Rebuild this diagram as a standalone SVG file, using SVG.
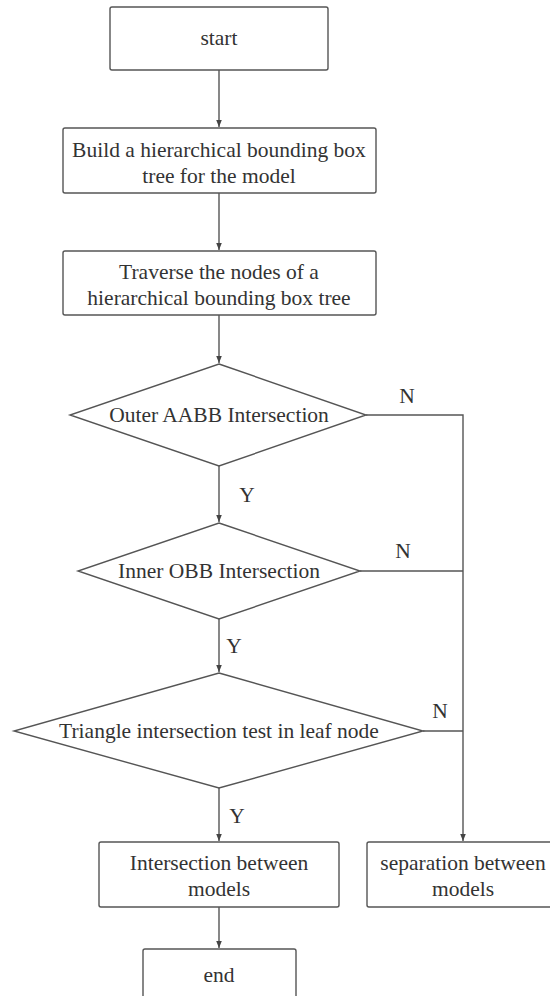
<svg xmlns="http://www.w3.org/2000/svg" width="550" height="996" viewBox="0 0 550 996">
<defs>
<marker id="ah" markerWidth="8" markerHeight="8" refX="7" refY="4" orient="auto" markerUnits="userSpaceOnUse">
<path d="M0,1.2 L7,4 L0,6.8 Z" fill="#444"/>
</marker>
<style>
.box{fill:#fff;stroke:#555;stroke-width:1.4}
.c{fill:none;stroke:#555;stroke-width:1.4}
</style>
</defs>
<rect width="550" height="996" fill="#fff"/>
<g font-family="'Liberation Serif', 'Times New Roman', Times, 'DejaVu Serif', serif" font-size="21.5" fill="#333" text-anchor="middle">
<g id="connectors">
<path class="c" d="M219,70 V127" marker-end="url(#ah)"/>
<path class="c" d="M219,193 V250" marker-end="url(#ah)"/>
<path class="c" d="M219,315 V363" marker-end="url(#ah)"/>
<path class="c" d="M219,466 V522" marker-end="url(#ah)"/>
<path class="c" d="M219,619 V672" marker-end="url(#ah)"/>
<path class="c" d="M219,788 V841" marker-end="url(#ah)"/>
<path class="c" d="M219,907 V948" marker-end="url(#ah)"/>
<path class="c" d="M366,415 H463 V841" marker-end="url(#ah)"/>
<path class="c" d="M360,571 H463"/>
<path class="c" d="M423,731 H463"/>
<text x="407" y="403">N</text>
<text x="403" y="558">N</text>
<text x="440" y="718">N</text>
<text x="247" y="502">Y</text>
<text x="234" y="653">Y</text>
<text x="237" y="823">Y</text>
</g>
<g id="start">
<rect class="box" x="110" y="7" width="218" height="63" rx="2"/>
<text x="219" y="45">start</text>
</g>
<g id="build">
<rect class="box" x="63" y="128" width="313" height="65" rx="2"/>
<text x="219" y="157">Build a hierarchical bounding box</text>
<text x="219" y="183">tree for the model</text>
</g>
<g id="traverse">
<rect class="box" x="63" y="251" width="313" height="64" rx="2"/>
<text x="219" y="279">Traverse the nodes of a</text>
<text x="219" y="305">hierarchical bounding box tree</text>
</g>
<g id="outer">
<polygon class="box" points="219,364 366,415 219,466 70,415"/>
<text x="219" y="422">Outer AABB Intersection</text>
</g>
<g id="inner">
<polygon class="box" points="219,523 360,571 219,619 78,571"/>
<text x="219" y="578">Inner OBB Intersection</text>
</g>
<g id="triangle">
<polygon class="box" points="219,673 423,731 219,788 14,731"/>
<text x="219" y="738">Triangle intersection test in leaf node</text>
</g>
<g id="intersection">
<rect class="box" x="99" y="842" width="240" height="65" rx="2"/>
<text x="219" y="870">Intersection between</text>
<text x="219" y="896">models</text>
</g>
<g id="separation">
<rect class="box" x="367" y="842" width="190" height="65" rx="2"/>
<text x="463" y="870">separation between</text>
<text x="463" y="896">models</text>
</g>
<g id="end">
<rect class="box" x="143" y="949" width="153" height="60" rx="2"/>
<text x="219" y="982">end</text>
</g>
</g>
</svg>
